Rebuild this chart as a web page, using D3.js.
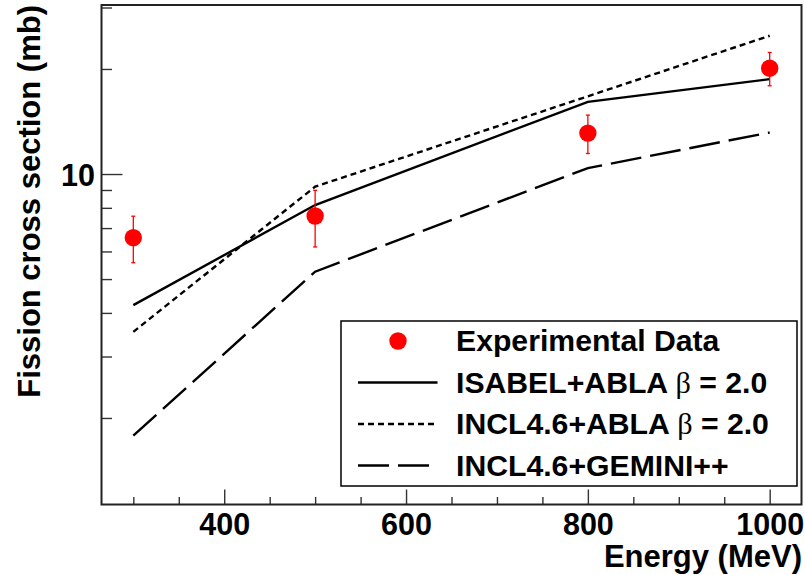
<!DOCTYPE html>
<html>
<head>
<meta charset="utf-8">
<script src="https://cdn.jsdelivr.net/npm/d3@7"></script>
<style>
  body { margin: 0; background: #fff; }
  svg { display: block; }
  text { font-family: "Liberation Sans", Arial, Helvetica, sans-serif; font-weight: bold; fill: #000; }
</style>
</head>
<body>
<svg id="chart" width="805" height="575"></svg>
<script>
// Beam energies (MeV) and fission cross sections (mb)
const energies = [300, 500, 800, 1000];
const expValues = [6.57, 7.58, 13.1, 20.1];
const expErrors = [1.0, 1.4, 1.65, 2.2];
const isabelAbla = [4.21, 8.15, 16.1, 18.7];
const inclAbla = [3.53, 9.2, 16.7, 24.9];
const inclGemini = [1.78, 5.25, 10.4, 13.15];

const xMajorTicks = [400, 600, 800, 1000];
const xMinorTicks = [300, 350, 450, 500, 550, 650, 700, 750, 850, 900, 950];
const yMajorTicks = [10];
const yMinorTicks = [2, 3, 4, 5, 6, 7, 8, 9, 20, 30];

const legendLabels = ["Experimental Data", "ISABEL+ABLA", "INCL4.6+ABLA", "INCL4.6+GEMINI++"];
const betaSuffix = " = 2.0";

const svg = d3.select("#chart");

const frame = { left: 101.5, right: 801.5, top: 5, bottom: 504.5 };

const x = d3.scaleLinear().domain([265, 1035]).range([frame.left, frame.right]);
const y = d3.scaleLog().domain([1.13, 30.5]).range([frame.bottom, frame.top]);

// Model curves
const line = d3.line()
  .x((d, i) => x(energies[i]))
  .y(d => y(d));

const models = [
  { values: isabelAbla, dash: null },
  { values: inclAbla, dash: "6,4" },
  { values: inclGemini, dash: "31,9" }
];

const plot = svg.append("g");
plot.selectAll("path.model")
  .data(models)
  .join("path")
  .attr("class", "model")
  .attr("d", d => line(d.values))
  .attr("fill", "none")
  .attr("stroke", "#000")
  .attr("stroke-width", 2.4)
  .attr("stroke-dasharray", d => d.dash);

// Experimental points with error bars
const pts = energies.map((e, i) => ({ e, v: expValues[i], err: expErrors[i] }));
const errG = plot.append("g").attr("stroke", "#ff0000").attr("stroke-width", 1.3);
errG.selectAll("line.bar").data(pts).join("line")
  .attr("class", "bar")
  .attr("x1", d => x(d.e)).attr("x2", d => x(d.e))
  .attr("y1", d => y(d.v - d.err)).attr("y2", d => y(d.v + d.err));
errG.selectAll("line.capTop").data(pts).join("line")
  .attr("class", "capTop")
  .attr("x1", d => x(d.e) - 2).attr("x2", d => x(d.e) + 2)
  .attr("y1", d => y(d.v + d.err)).attr("y2", d => y(d.v + d.err));
errG.selectAll("line.capBot").data(pts).join("line")
  .attr("class", "capBot")
  .attr("x1", d => x(d.e) - 2).attr("x2", d => x(d.e) + 2)
  .attr("y1", d => y(d.v - d.err)).attr("y2", d => y(d.v - d.err));
plot.selectAll("circle.exp").data(pts).join("circle")
  .attr("class", "exp")
  .attr("cx", d => x(d.e)).attr("cy", d => y(d.v))
  .attr("r", 8.7)
  .attr("fill", "#ff0000");

// Legend
const lg = svg.append("g");
lg.append("rect")
  .attr("x", 341).attr("y", 321).attr("width", 456).attr("height", 165)
  .attr("fill", "#fff").attr("stroke", "#000").attr("stroke-width", 1.5);
const rowY = [341, 382.5, 424, 465.5];
lg.append("circle").attr("cx", 398).attr("cy", rowY[0]).attr("r", 8.7).attr("fill", "#ff0000");
models.forEach((m, i) => {
  lg.append("line")
    .attr("x1", 358).attr("x2", 437.5)
    .attr("y1", rowY[i + 1]).attr("y2", rowY[i + 1])
    .attr("stroke", "#000").attr("stroke-width", 2.4)
    .attr("stroke-dasharray", m.dash);
});
legendLabels.forEach((lab, i) => {
  const t = lg.append("text")
    .attr("x", 456).attr("y", rowY[i] + 10)
    .attr("font-size", 30.2);
  t.append("tspan").text(lab);
  if (i === 1 || i === 2) {
    t.append("tspan").text(" ");
    t.append("tspan").text("β")
      .attr("font-family", "'Liberation Serif', 'DejaVu Serif', serif")
      .attr("font-weight", "normal");
    t.append("tspan").text(betaSuffix);
  }
});

// Axes
const xMajor = d3.axisBottom(x).tickValues(xMajorTicks).tickSizeInner(-15).tickSizeOuter(0).tickPadding(23).tickFormat(d3.format("d"));
const xMinor = d3.axisBottom(x).tickValues(xMinorTicks).tickSizeInner(-7.5).tickSizeOuter(0).tickFormat("");
const yMajor = d3.axisLeft(y).tickValues(yMajorTicks).tickSizeInner(-21).tickSizeOuter(0).tickPadding(6.5).tickFormat(d3.format("d"));
const yMinor = d3.axisLeft(y).tickValues(yMinorTicks).tickSizeInner(-10.5).tickSizeOuter(0).tickFormat("");

function styleAxis(g) {
  g.select(".domain").remove();
  g.selectAll(".tick line").attr("stroke", "#333").attr("stroke-width", 1.4);
  g.selectAll(".tick text")
    .attr("font-family", "'Liberation Sans', Arial, sans-serif")
    .attr("font-weight", "bold")
    .attr("font-size", 30.5)
    .attr("fill", "#000");
}

svg.append("g").attr("transform", `translate(0,${frame.bottom})`).call(xMinor).call(styleAxis);
svg.append("g").attr("transform", `translate(0,${frame.bottom})`).call(xMajor).call(styleAxis)
  .selectAll(".tick text").attr("dy", null).attr("y", 30);
svg.append("g").attr("transform", `translate(${frame.left},0)`).call(yMinor).call(styleAxis);
const yg = svg.append("g").attr("transform", `translate(${frame.left},0)`).call(yMajor).call(styleAxis);
yg.selectAll(".tick text").attr("dy", "0.36em");

// Frame
svg.append("rect")
  .attr("x", frame.left).attr("y", frame.top)
  .attr("width", frame.right - frame.left).attr("height", frame.bottom - frame.top)
  .attr("fill", "none").attr("stroke", "#222").attr("stroke-width", 2);

// Axis titles
svg.append("text")
  .attr("x", 802).attr("y", 567)
  .attr("text-anchor", "end")
  .attr("font-size", 31)
  .text("Energy (MeV)");
svg.append("text")
  .attr("transform", "translate(40,5) rotate(-90)")
  .attr("text-anchor", "end")
  .attr("font-size", 31)
  .text("Fission cross section (mb)");
</script>
</body>
</html>
